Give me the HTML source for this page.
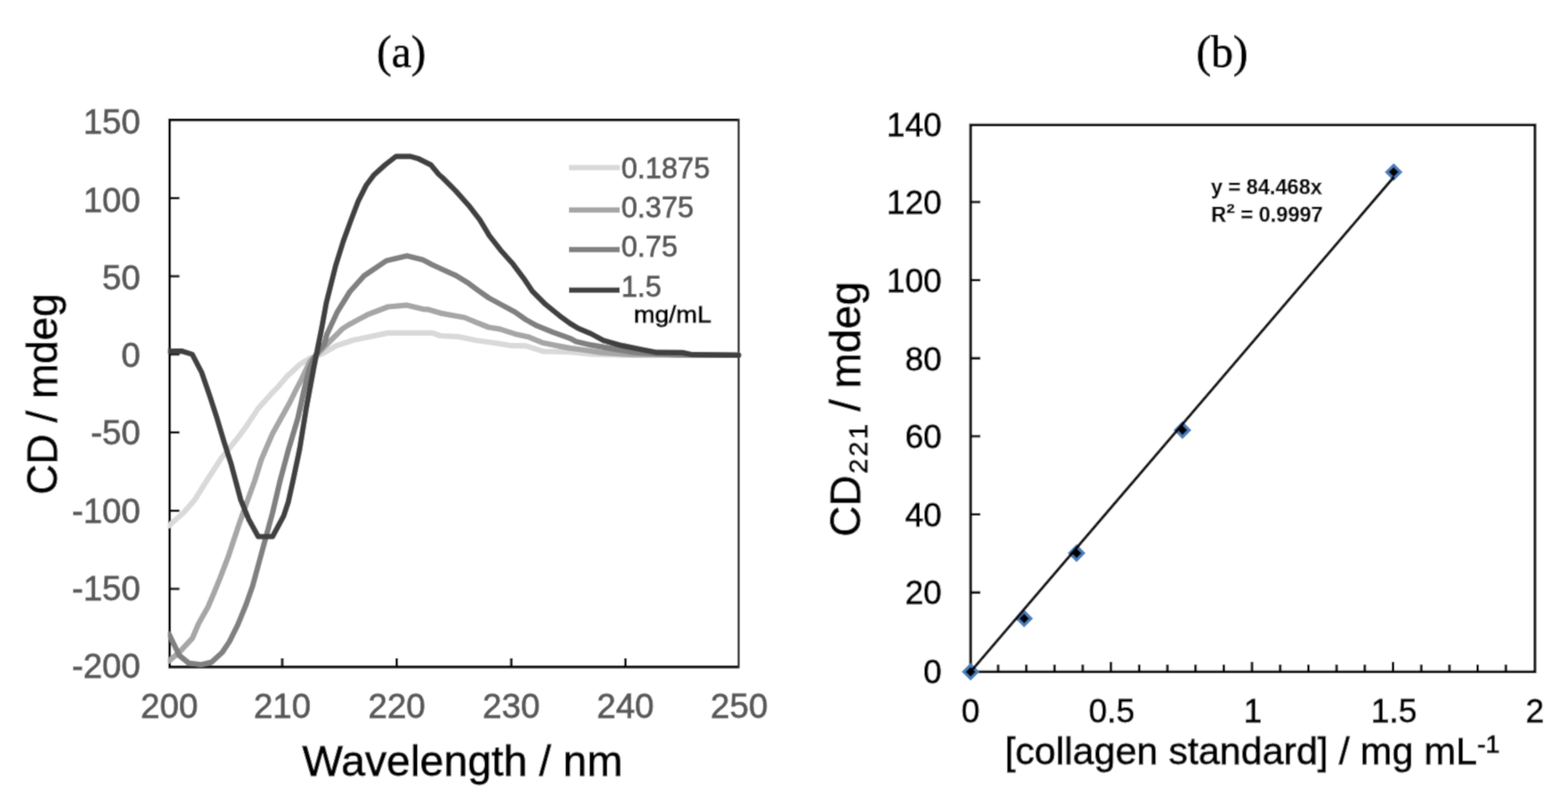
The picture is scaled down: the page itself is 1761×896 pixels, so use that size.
<!DOCTYPE html>
<html><head><meta charset="utf-8"><title>CD spectra and calibration</title>
<style>html,body{margin:0;padding:0;background:#fff;}body{width:1761px;height:896px;overflow:hidden;}svg{display:block;}text{stroke-width:0.9px;}.eq text{stroke-width:0.25px;}</style>
</head><body>
<svg width="1761" height="896" viewBox="0 0 1761 896">
<filter id="soft" x="0" y="0" width="1" height="1"><feConvolveMatrix order="3" kernelMatrix="1 2 1 2 12 2 1 2 1" divisor="24" edgeMode="duplicate"/></filter>
<g filter="url(#soft)">
<rect width="1761" height="896" fill="#fff"/>
<text x="423" y="75.2" font-family="Liberation Serif, serif" font-size="50" fill="#000" stroke="#000">(a)</text>
<text x="1343.4" y="75" font-family="Liberation Serif, serif" font-size="50" fill="#000" stroke="#000">(b)</text>
<path d="M829.6 134.6H190.5V748.9H829.6" fill="none" stroke="#000" stroke-width="3.1"/>
<path d="M829.6 133.29999999999998V750.1999999999999" fill="none" stroke="#303030" stroke-width="2.6"/>
<path d="M190.5 222.4h11 M190.5 310.1h11 M190.5 397.9h11 M190.5 485.6h11 M190.5 573.4h11 M190.5 661.1h11 M317.0 748.9v-10 M445.6 748.9v-10 M574.2 748.9v-10 M702.4 748.9v-10" stroke="#000" stroke-width="2.9" fill="none"/>
<clipPath id="ca"><rect x="188.6" y="131.6" width="644.0" height="618.8"/></clipPath>
<g clip-path="url(#ca)" fill="none" stroke-linejoin="round" stroke-linecap="round">
<polyline points="190,590 206.1,575.7 218.6,561.4 232,540 248.9,513.9 265,494.3 275.7,480 290,458.6 306.7,440 311.4,435.4 322.3,422.6 336.8,409.2 348,402.5 362.5,396.9 378.1,388 396.4,382 400,381.3 435.7,373.9 485.7,373.9 494.6,377 514.4,378 535.3,382.3 553.7,384.7 572.1,387.8 590.5,388.4 610.2,394.5 640,395.2 664.1,397.6 700,398.6 829.6,398.8" stroke="#d9d9d9" stroke-width="6.2"/>
<polyline points="190,741.8 201.4,732.4 216.2,716.3 223,700.2 233.6,681.5 240.2,666 247,649.4 256.1,625.7 268.6,588.2 277.5,563.2 286,540 293.6,515.7 306,487.1 325.7,451.4 331.3,440 339.1,424.8 348,406 360.3,393.6 372.5,381.3 384.8,369 391.1,365 400,360.1 412.5,353.4 435.7,344.5 457.1,342.7 475,347.1 480,347.3 494.7,351.6 521.7,356.5 536.5,362.6 548.8,367.5 561,369.4 578.2,374.9 594.2,378.6 608.9,384.7 623.7,387.8 640,390.9 652.7,392.5 675.4,395.9 709.5,398.2 829.6,398.8" stroke="#a6a6a6" stroke-width="6.2"/>
<polyline points="190,712.3 195.4,723.5 201.4,736 212,744.5 226,746.3 237.6,743.5 249.6,732.5 257.7,720.4 267,701.6 276.4,678.8 283.7,658 295.4,615 306.1,575.7 314.5,540 323.9,505 334.6,469.3 341,440 346.9,415.9 352,403 358,393.6 364.3,386.4 367,375.7 378.6,350.7 392.9,327.5 408.9,309.6 433.9,292.7 457.1,287.3 475,291.8 484.9,297 497.9,303 512.1,309.3 526.4,318.2 536.5,325.8 548.8,334.4 563.5,342.4 578.2,350.3 590.5,358.9 602.8,365.7 621.2,373.1 640,379.8 647,383.4 664.1,387.4 686.8,391.4 709.5,395.3 732.2,397 760,398.5 829.6,398.8" stroke="#808080" stroke-width="6.2"/>
<polyline points="190,394.4 204.3,394.2 215.9,397.9 226.6,418.4 235.5,444.3 243.6,469.3 251.6,496.1 259.6,521 270.4,561.4 279.3,582.9 290,602.5 306.1,602.5 318.6,579.3 323.9,563.2 329,540 336.4,505 343.6,460.4 347.4,440 352.5,412.5 356.9,390.2 361.4,367.9 366.5,340 376.8,298.9 385.7,270.4 393.7,248.5 402.3,225.8 411.3,208 419.6,196.8 432.5,185.1 444.7,175.6 460.4,175.6 469.3,177.9 483.8,185.1 492.7,195.7 497,199.5 512.1,214.6 526.4,230.7 538.9,246.8 549.6,264.6 562.1,280.7 576.4,296.8 588,312.3 597.9,327 612.6,341.7 628,354.2 640,363 649.3,368.6 664.1,374.9 677.7,382.3 698.1,387.9 720.9,392.5 737.9,395.7 766.3,395.9 777.6,398.2 829.6,398.8" stroke="#404040" stroke-width="6.2"/>
</g>
<g font-family="Liberation Sans, Arial, sans-serif" font-size="38.5" fill="#595959" stroke="#595959">
<text x="157.7" y="150.3" text-anchor="end">150</text>
<text x="157.7" y="237.5" text-anchor="end">100</text>
<text x="157.7" y="324.8" text-anchor="end">50</text>
<text x="157.7" y="412.0" text-anchor="end">0</text>
<text x="157.7" y="499.2" text-anchor="end">-50</text>
<text x="157.7" y="586.5" text-anchor="end">-100</text>
<text x="157.7" y="673.7" text-anchor="end">-150</text>
<text x="157.7" y="760.9" text-anchor="end">-200</text>
<text x="190.2" y="805.6" text-anchor="middle">200</text>
<text x="317.0" y="805.6" text-anchor="middle">210</text>
<text x="445.6" y="805.6" text-anchor="middle">220</text>
<text x="574.2" y="805.6" text-anchor="middle">230</text>
<text x="702.4" y="805.6" text-anchor="middle">240</text>
<text x="830.2" y="805.6" text-anchor="middle">250</text>
</g>
<text transform="translate(63.5 555.6) rotate(-90)" font-family="Liberation Sans, Arial, sans-serif" font-size="47.3" fill="#000" stroke="#000">CD / mdeg</text>
<text x="339.5" y="870.7" font-family="Liberation Sans, Arial, sans-serif" font-size="48.2" fill="#000" stroke="#000">Wavelength / nm</text>
<line x1="639" y1="188.3" x2="696" y2="188.3" stroke="#d9d9d9" stroke-width="6"/>
<text x="697.7" y="200" font-family="Liberation Sans, Arial, sans-serif" font-size="32.6" fill="#595959" stroke="#595959">0.1875</text>
<line x1="639" y1="235.8" x2="696" y2="235.8" stroke="#a6a6a6" stroke-width="6"/>
<text x="697.7" y="243.9" font-family="Liberation Sans, Arial, sans-serif" font-size="32.6" fill="#595959" stroke="#595959">0.375</text>
<line x1="639" y1="280.3" x2="696" y2="280.3" stroke="#808080" stroke-width="6"/>
<text x="697.7" y="288.3" font-family="Liberation Sans, Arial, sans-serif" font-size="32.6" fill="#595959" stroke="#595959">0.75</text>
<line x1="639" y1="325.8" x2="696" y2="325.8" stroke="#404040" stroke-width="6"/>
<text x="697.7" y="333.3" font-family="Liberation Sans, Arial, sans-serif" font-size="32.6" fill="#595959" stroke="#595959">1.5</text>
<text x="711.7" y="362.3" font-family="Liberation Sans, Arial, sans-serif" font-size="26" textLength="87.2" lengthAdjust="spacingAndGlyphs" fill="#000" stroke="#000">mg/mL</text>
<rect x="1090.1" y="140.3" width="633.8" height="614" fill="none" stroke="#000" stroke-width="3.1"/>
<path d="M1090.1 665.2h11 M1090.1 577.6h11 M1090.1 489.9h11 M1090.1 402.3h11 M1090.1 314.6h11 M1090.1 226.9h11 M1121.0 754.3v-8 M1152.7 754.3v-8 M1184.3 754.3v-8 M1216.0 754.3v-8 M1247.7 754.3v-11 M1279.4 754.3v-8 M1311.1 754.3v-8 M1342.7 754.3v-8 M1374.4 754.3v-8 M1406.1 754.3v-11 M1437.8 754.3v-8 M1469.5 754.3v-8 M1501.1 754.3v-8 M1532.8 754.3v-8 M1564.5 754.3v-11 M1596.2 754.3v-8 M1627.9 754.3v-8 M1659.5 754.3v-8 M1691.2 754.3v-8" stroke="#000" stroke-width="2.9" fill="none"/>
<g font-family="Liberation Sans, Arial, sans-serif" font-size="37" fill="#000" stroke="#000">
<text x="1057.6" y="766.8" text-anchor="end">0</text>
<text x="1057.6" y="678.4" text-anchor="end">20</text>
<text x="1057.6" y="590.8" text-anchor="end">40</text>
<text x="1057.6" y="503.1" text-anchor="end">60</text>
<text x="1057.6" y="415.5" text-anchor="end">80</text>
<text x="1057.6" y="327.8" text-anchor="end">100</text>
<text x="1057.6" y="240.1" text-anchor="end">120</text>
<text x="1057.6" y="152.8" text-anchor="end">140</text>
<text x="1090.1" y="810.7" text-anchor="middle">0</text>
<text x="1248.5" y="810.7" text-anchor="middle">0.5</text>
<text x="1407.0" y="810.7" text-anchor="middle">1</text>
<text x="1565.5" y="810.7" text-anchor="middle">1.5</text>
<text x="1723.9" y="810.7" text-anchor="middle">2</text>
</g>
<g transform="rotate(-90)" font-family="Liberation Sans, Arial, sans-serif" fill="#000" stroke="#000"><text x="-602.8" y="966" font-size="48">CD</text><text x="-531.7" y="973.9" font-size="30" letter-spacing="2.6">221</text><text x="-461.8" y="966" font-size="48">/</text><text x="-436.2" y="966" font-size="48">mdeg</text></g>
<text x="1128.4" y="857.9" font-family="Liberation Sans, Arial, sans-serif" font-size="43" fill="#000" stroke="#000">[collagen standard] / mg mL<tspan font-size="28.5" dy="-13.3">-1</tspan></text>
<path d="M1090.1 746.5L1097.9 754.3L1090.1 762.1L1082.3 754.3Z" fill="#000" stroke="#4a7ebb" stroke-width="3.2"/>
<path d="M1150.2 686.7L1158.0 694.5L1150.2 702.3L1142.4 694.5Z" fill="#000" stroke="#4a7ebb" stroke-width="3.2"/>
<path d="M1209.1 613.3L1216.9 621.1L1209.1 628.9L1201.3 621.1Z" fill="#000" stroke="#4a7ebb" stroke-width="3.2"/>
<path d="M1328.0 475.1L1335.8 482.9L1328.0 490.7L1320.2 482.9Z" fill="#000" stroke="#4a7ebb" stroke-width="3.2"/>
<path d="M1565.2 185.4L1573.0 193.2L1565.2 201.0L1557.4 193.2Z" fill="#000" stroke="#4a7ebb" stroke-width="3.2"/>
<line x1="1090.1" y1="754.3" x2="1565.5" y2="198.6" stroke="#000" stroke-width="3.2"/>
<g font-family="Liberation Sans, Arial, sans-serif" font-size="23.5" font-weight="bold" fill="#000" stroke="#000" class="eq"><text x="1360" y="218.1">y = 84.468x</text><text x="1360.3" y="249.2">R<tspan font-size="29">²</tspan> = 0.9997</text></g>
</g>
</svg>
</body></html>
